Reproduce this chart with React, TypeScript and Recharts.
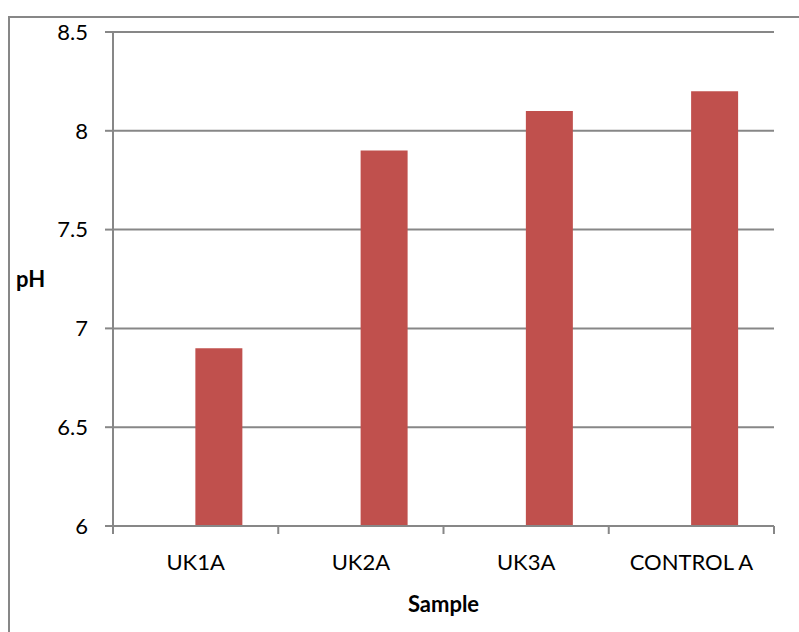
import { Bar, BarChart, CartesianGrid, XAxis, YAxis } from "recharts";

const samples = ["UK1A", "UK2A", "UK3A", "CONTROL A"];
const phValues = [6.9, 7.9, 8.1, 8.2];
const blankValues = [null, null, null, null];
const phTicks = [6, 6.5, 7, 7.5, 8, 8.5];

const data = samples.map((name, i) => ({
  name,
  blank: blankValues[i],
  ph: phValues[i],
}));

const W = 799;
const H = 632;
const margin = { top: 32, right: 25, bottom: 0, left: 8 };
const yAxisW = 105;
const xAxisH = 106;
const band = (W - margin.left - yAxisW - margin.right) / samples.length;
const axisColor = "#878787";
const font = "Lato, 'Open Sans', sans-serif";
const fs = 22;

function CategoryTick(props: any) {
  const { x, y, payload, index } = props;
  const left = x - band / 2;
  return (
    <g>
      <line x1={left} y1={y - 10} x2={left} y2={y - 2} stroke={axisColor} strokeWidth={2} />
      {index === samples.length - 1 && (
        <line x1={x + band / 2} y1={y - 10} x2={x + band / 2} y2={y - 2} stroke={axisColor} strokeWidth={2} />
      )}
      <text x={x} y={y + 18} dy="0.71em" textAnchor="middle" fill="#000" fontSize={fs} fontFamily={font}>
        {payload.value}
      </text>
    </g>
  );
}

export default function App() {
  return (
    <div style={{ position: "absolute", left: 0, top: 0, width: W, height: H, overflow: "hidden", background: "#fff" }}>
      <div
        style={{
          position: "absolute",
          left: 8,
          top: 16,
          width: W,
          height: H,
          border: `2px solid ${axisColor}`,
          boxSizing: "border-box",
        }}
      />
      <BarChart
        width={W}
        height={H}
        data={data}
        margin={margin}
        barCategoryGap="21.4%"
        barGap={0}
        style={{ position: "absolute", left: 0, top: 0 }}
      >
        <CartesianGrid vertical={false} stroke={axisColor} strokeWidth={2} />
        <XAxis
          dataKey="name"
          height={xAxisH}
          axisLine={{ stroke: axisColor, strokeWidth: 2 }}
          tickLine={false}
          tickSize={8}
          tick={<CategoryTick />}
          interval={0}
          label={{
            value: "Sample",
            position: "insideBottom",
            offset: 20,
            fill: "#000",
            fontSize: fs,
            fontWeight: "bold",
            fontFamily: font,
          }}
        />
        <YAxis
          width={yAxisW}
          domain={[6, 8.5]}
          ticks={phTicks}
          interval={0}
          axisLine={{ stroke: axisColor, strokeWidth: 2 }}
          tickLine={{ stroke: axisColor, strokeWidth: 2 }}
          tickSize={8}
          tickMargin={17}
          tick={{ fill: "#000", fontSize: fs, fontFamily: font }}
          label={{
            value: "pH",
            position: "insideLeft",
            offset: 8,
            fill: "#000",
            fontSize: fs,
            fontWeight: "bold",
            fontFamily: font,
          }}
        />
        <Bar dataKey="blank" fill="#4F81BD" isAnimationActive={false} />
        <Bar dataKey="ph" fill="#C0504D" isAnimationActive={false} />
      </BarChart>
    </div>
  );
}
